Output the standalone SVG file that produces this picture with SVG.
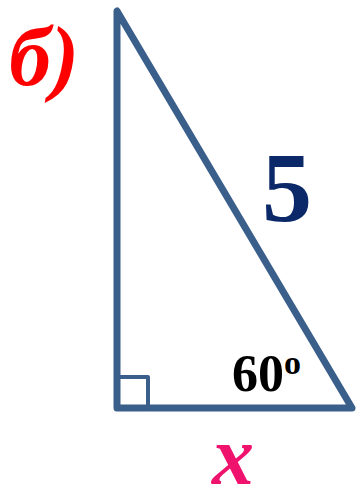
<svg xmlns="http://www.w3.org/2000/svg" width="357" height="491" viewBox="0 0 357 491">
<style>
.edge{fill:none;stroke:#3A5F8B;stroke-linejoin:round;stroke-linecap:round}
.t{font-family:"Liberation Serif","Times New Roman",serif;font-weight:bold}
</style>
<rect width="357" height="491" fill="#fff"/>
<g id="connectors">
<path class="edge" stroke-width="7" d="M117,11 L117,408 L352,408 Z"/>
<path class="edge" stroke-width="4" d="M117,377 L148,377 L148,408"/>
</g>
<g id="label-b"><text class="t" x="9" y="85" font-size="84" font-style="italic" fill="#FF0000">б)</text></g>
<g id="label-5"><text class="t" x="262" y="221" font-size="100" fill="#0B2868">5</text></g>
<g id="label-60"><text class="t" x="232" y="391" font-size="52" fill="#000">60<tspan font-size="34" dy="-17">o</tspan></text></g>
<g id="label-x"><text class="t" x="212" y="484" font-size="84" font-style="italic" fill="#F0136E">x</text></g>
</svg>
